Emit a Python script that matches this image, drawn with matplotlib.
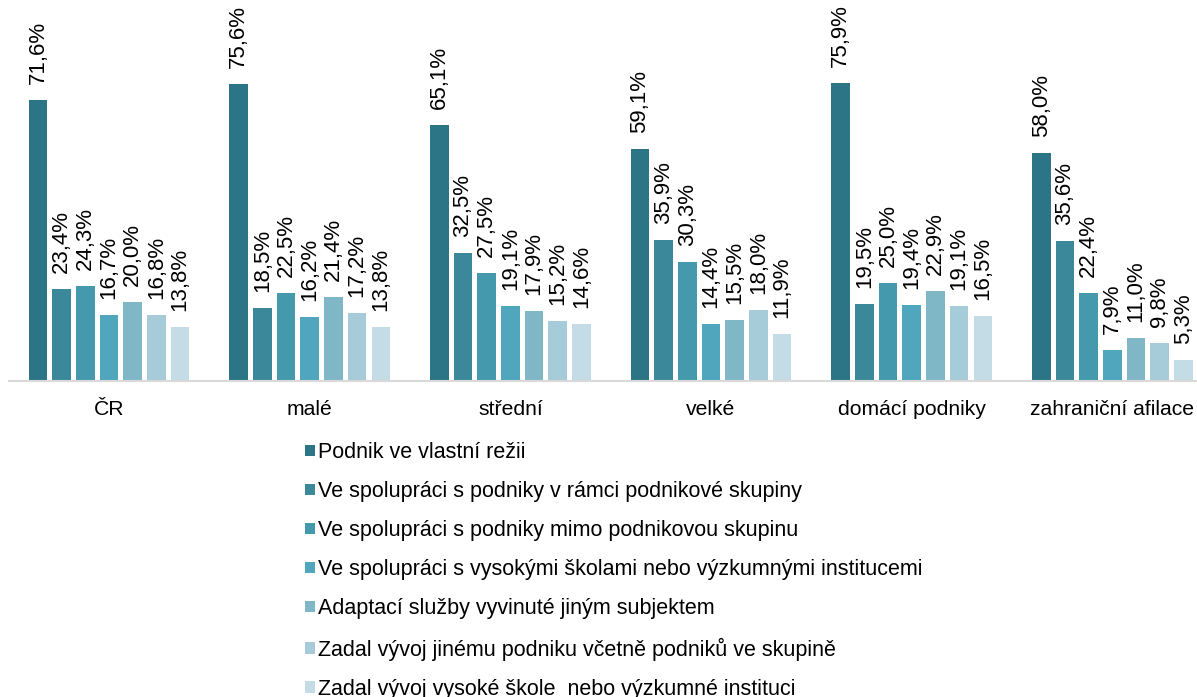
import numpy as np
import matplotlib
matplotlib.use("Agg")
import matplotlib.pyplot as plt
import matplotlib.transforms as mtransforms

plt.rcParams['font.family'] = ['Liberation Sans', 'DejaVu Sans']

# kategorie a řady
kategorie = ['ČR', 'malé', 'střední', 'velké', 'domácí podniky', 'zahraniční afilace']
rady = [
    'Podnik ve vlastní režii',
    'Ve spolupráci s podniky v rámci podnikové skupiny',
    'Ve spolupráci s podniky mimo podnikovou skupinu',
    'Ve spolupráci s vysokými školami nebo výzkumnými institucemi',
    'Adaptací služby vyvinuté jiným subjektem',
    'Zadal vývoj jinému podniku včetně podniků ve skupině',
    'Zadal vývoj vysoké škole  nebo výzkumné instituci',
]
vlastni = [71.6, 75.6, 65.1, 59.1, 75.9, 58.0]
skupina = [23.4, 18.5, 32.5, 35.9, 19.5, 35.6]
mimo_skupinu = [24.3, 22.5, 27.5, 30.3, 25.0, 22.4]
vs_instituce = [16.7, 16.2, 19.1, 14.4, 19.4, 7.9]
adaptace = [20.0, 21.4, 17.9, 15.5, 22.9, 11.0]
zadal_podniku = [16.8, 17.2, 15.2, 18.0, 19.1, 9.8]
zadal_vs = [13.8, 13.8, 14.6, 11.9, 16.5, 5.3]
hodnoty = [vlastni, skupina, mimo_skupinu, vs_instituce, adaptace, zadal_podniku, zadal_vs]

barvy = ['#2b7586', '#3c889b', '#4599ad', '#4fa6bd', '#7fb7c7', '#a6cbd9', '#c3dce5']

W, H = 1197, 697
fig = plt.figure(figsize=(W / 100, H / 100), dpi=100)
# osa přesahuje pravý okraj obrázku (jako v originále)
ax = fig.add_axes([8.7 / W, 1 - 381 / H, 1204 / W, 381 / H])

x = np.arange(len(kategorie))
krok = 0.118
sirka = 0.092
for i, (nazev, vals, c) in enumerate(zip(rady, hodnoty, barvy)):
    pos = x + (i - 3) * krok
    bars = ax.bar(pos, vals, sirka, color=c, label=nazev)
    for b, v in zip(bars, vals):
        ax.annotate(f'{v:.1f}%'.replace('.', ','), (b.get_x() + b.get_width() / 2, v),
                    xytext=(0, 11.5), textcoords='offset points', rotation=90,
                    ha='center', va='bottom', fontsize=16, annotation_clip=False)

ax.set_xlim(-0.5, len(kategorie) - 0.5)
ax.set_ylim(0, 97)
ax.set_xticks(x)
ax.set_xticklabels(kategorie, fontsize=15.2)
posun = mtransforms.ScaledTranslation(-5 / 100, 0, fig.dpi_scale_trans)
for lbl in ax.get_xticklabels():
    lbl.set_transform(lbl.get_transform() + posun)
ax.tick_params(axis='x', length=0, pad=14)
ax.set_yticks([])
for s in ['top', 'right', 'left']:
    ax.spines[s].set_visible(False)
ax.spines['bottom'].set_color('#d9d9d9')
ax.spines['bottom'].set_linewidth(1.5)

fig.legend(loc='upper left', bbox_to_anchor=(305 / W, 1 - 442 / H), ncol=1,
           frameon=False, fontsize=15.5, labelspacing=0.84, handlelength=0.45,
           handleheight=0.45, handletextpad=0.15, borderaxespad=0, borderpad=0)

fig.savefig('out.png', dpi=100)
